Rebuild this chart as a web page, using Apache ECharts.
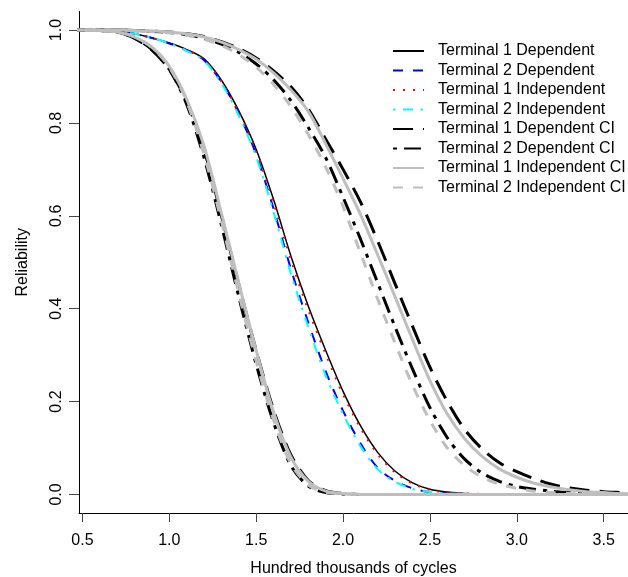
<!DOCTYPE html>
<html><head><meta charset="utf-8">
<script src="https://cdn.jsdelivr.net/npm/echarts@6/dist/echarts.min.js"></script>
<style>html,body{margin:0;padding:0;background:#fff}#c{width:628px;height:577px}</style>
</head><body><div id="c"></div>
<script>
// x grid (hundred thousands of cycles)
const xs = [0.4,0.5,0.6,0.7,0.8,0.9,1.0,1.1,1.2,1.3,1.4,1.5,1.6,1.7,1.8,1.9,2.0,2.1,2.2,2.3,2.4,2.5,2.6,2.7,2.8,2.9,3.0,3.1,3.2,3.3,3.4,3.5,3.6,3.7];

// point estimates
const t1Dep = [1,1,0.9995,0.998,0.992,0.983,0.972,0.958,0.938,0.892,0.826,0.743,0.635,0.513,0.405,0.31,0.222,0.148,0.09,0.05,0.025,0.011,0.005,0.002,0.001,0,0,0,0,0,0,0,0,0];
const t2Dep = [1,1,0.9995,0.998,0.992,0.983,0.971,0.956,0.935,0.888,0.82,0.732,0.615,0.485,0.37,0.265,0.18,0.11,0.057,0.029,0.013,0.005,0.002,0.001,0,0,0,0,0,0,0,0,0,0];
const t1Ind = [1,1,0.9995,0.998,0.992,0.983,0.972,0.957,0.936,0.889,0.822,0.738,0.628,0.505,0.397,0.302,0.215,0.143,0.086,0.047,0.023,0.01,0.004,0.002,0.001,0,0,0,0,0,0,0,0,0];
const t2Ind = [1,1,0.9995,0.998,0.992,0.983,0.971,0.955,0.934,0.885,0.816,0.727,0.608,0.475,0.36,0.256,0.173,0.104,0.054,0.027,0.012,0.005,0.002,0.001,0,0,0,0,0,0,0,0,0,0];

// lower confidence bounds
const t1DepLo = [1,1,0.999,0.996,0.982,0.957,0.915,0.845,0.742,0.6,0.452,0.31,0.182,0.085,0.03,0.008,0.002,0,0,0,0,0,0,0,0,0,0,0,0,0,0,0,0,0];
const t2DepLo = [1,1,0.999,0.996,0.983,0.958,0.915,0.84,0.725,0.58,0.425,0.28,0.155,0.062,0.018,0.004,0.001,0,0,0,0,0,0,0,0,0,0,0,0,0,0,0,0,0];
const t1IndLo = [1,1,0.999,0.996,0.985,0.963,0.922,0.851,0.75,0.605,0.455,0.31,0.177,0.08,0.028,0.007,0.002,0,0,0,0,0,0,0,0,0,0,0,0,0,0,0,0,0];
const t2IndLo = [1,1,0.999,0.996,0.986,0.962,0.92,0.846,0.732,0.588,0.432,0.287,0.16,0.066,0.02,0.005,0.001,0,0,0,0,0,0,0,0,0,0,0,0,0,0,0,0,0];

// upper confidence bounds
const t1DepHi = [1,1,1,1,0.999,0.998,0.996,0.992,0.986,0.975,0.96,0.94,0.912,0.878,0.83,0.765,0.70,0.63,0.545,0.453,0.362,0.274,0.20,0.14,0.098,0.068,0.049,0.034,0.022,0.014,0.009,0.006,0.004,0.002];
const t2DepHi = [1,1,1,1,0.999,0.997,0.995,0.99,0.982,0.97,0.952,0.927,0.893,0.848,0.79,0.725,0.64,0.55,0.455,0.36,0.27,0.187,0.122,0.076,0.046,0.028,0.017,0.011,0.007,0.004,0.002,0.001,0,0];
const t1IndHi = [1,1,1,1,0.999,0.998,0.996,0.992,0.985,0.974,0.958,0.937,0.908,0.871,0.825,0.755,0.68,0.603,0.515,0.425,0.333,0.245,0.173,0.12,0.082,0.055,0.037,0.024,0.016,0.01,0.006,0.004,0.002,0.001];
const t2IndHi = [1,1,1,1,0.999,0.997,0.994,0.989,0.98,0.967,0.947,0.92,0.883,0.835,0.775,0.705,0.62,0.52,0.42,0.325,0.235,0.159,0.1,0.062,0.037,0.022,0.013,0.007,0.004,0.002,0.001,0,0,0];

const xTicks = [0.5,1.0,1.5,2.0,2.5,3.0,3.5];
const yTicks = [0,0.2,0.4,0.6,0.8,1.0];
const names = ['Terminal 1 Dependent','Terminal 2 Dependent','Terminal 1 Independent','Terminal 2 Independent',
  'Terminal 1 Dependent CI','Terminal 2 Dependent CI','Terminal 1 Independent CI','Terminal 2 Independent CI'];

const FONT = '"Liberation Sans", Arial, Helvetica, sans-serif';
function pts(ys){ return xs.map((x,i)=>[x, ys[i]]); }
function line(name, ys, color, width, type){
  return {name, type:'line', data:pts(ys), symbol:'none', showSymbol:false,
    smooth:0.3, clip:true, silent:true,
    lineStyle:{color, width, type, cap:'butt', join:'round'}, itemStyle:{color}};
}
const GREY = '#BEBEBE';
const series = [
  line(names[0], t1Dep, '#000000', 1.5, 'solid'),
  line(names[1], t2Dep, '#0000FF', 2, [10,10]),
  line(names[2], t1Ind, '#FF0000', 2, [2,8]),
  line(names[3], t2Ind, '#00FFFF', 2, [2.5,7.5,10,7.5]),
  line(names[4], t1DepLo, '#000000', 3, [20,10]),
  line(names[4], t1DepHi, '#000000', 3, [20,10]),
  line(names[5], t2DepLo, '#000000', 3, [4,7,17,7]),
  line(names[5], t2DepHi, '#000000', 3, [4,7,17,7]),
  line(names[6], t1IndLo, GREY, 3, 'solid'),
  line(names[6], t1IndHi, GREY, 3, 'solid'),
  line(names[7], t2IndLo, GREY, 3, [10,10]),
  line(names[7], t2IndHi, GREY, 3, [10,10])
];

const chart = echarts.init(document.getElementById('c'), null, {renderer:'canvas'});
chart.setOption({
  animation:false,
  backgroundColor:'#ffffff',
  textStyle:{fontFamily:FONT},
  grid:{left:79, right:0, top:11.5, bottom:64, containLabel:false, outerBoundsMode:'none'},
  legend:{orient:'vertical', left:387, top:38, itemWidth:31, itemHeight:14, itemGap:3.5,
    selectedMode:false, data:names,
    itemStyle:{color:'rgba(0,0,0,0)', borderWidth:0, opacity:0},
    textStyle:{fontFamily:FONT, fontSize:16, color:'#000', padding:[0,0,0,9]}},
  xAxis:{type:'value', min:0.48, max:3.64,
    name:'Hundred thousands of cycles', nameLocation:'middle', nameGap:48,
    nameTextStyle:{fontFamily:FONT, fontSize:16, color:'#000'},
    axisLine:{show:true, onZero:false, lineStyle:{color:'#000', width:1}},
    axisTick:{show:true, length:9, customValues:xTicks, lineStyle:{color:'#444', width:1}},
    axisLabel:{customValues:xTicks, formatter:v=>v.toFixed(1), margin:20, fontFamily:FONT, fontSize:16, color:'#000'},
    splitLine:{show:false}},
  yAxis:{type:'value', min:-0.04, max:1.04,
    name:'Reliability', nameLocation:'middle', nameGap:48,
    nameTextStyle:{fontFamily:FONT, fontSize:16, color:'#000'},
    axisLine:{show:true, onZero:false, lineStyle:{color:'#000', width:1}},
    axisTick:{show:true, length:10, customValues:yTicks, lineStyle:{color:'#444', width:1}},
    axisLabel:{customValues:yTicks, formatter:v=>v.toFixed(1), rotate:90, margin:14, fontFamily:FONT, fontSize:16, color:'#000'},
    splitLine:{show:false}},
  series
});
</script></body></html>
